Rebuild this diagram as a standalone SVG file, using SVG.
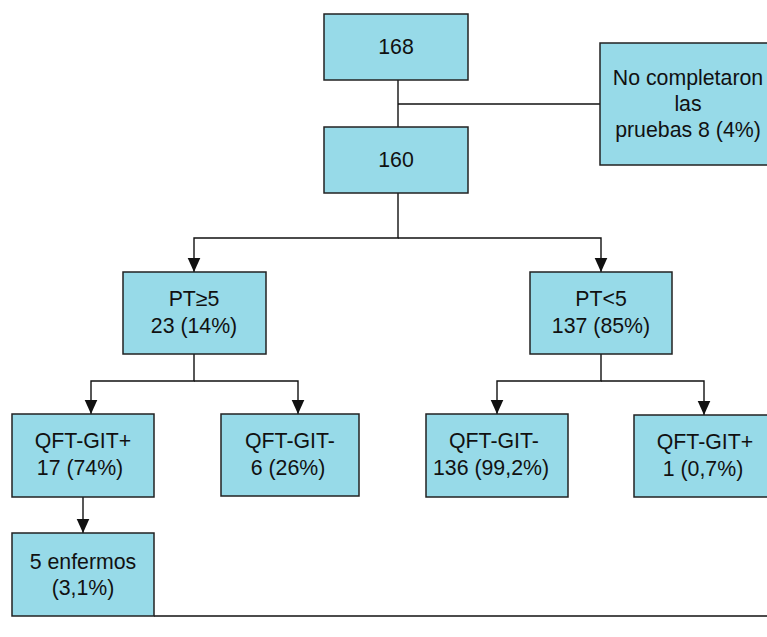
<svg xmlns="http://www.w3.org/2000/svg" width="767" height="637" viewBox="0 0 767 637">
<defs>
<marker id="arr" markerWidth="14" markerHeight="14" refX="10" refY="5" orient="auto" markerUnits="userSpaceOnUse" viewBox="0 0 10 10">
<path d="M0,0.5 L10,5 L0,9.5 Z" fill="#111"/>
</marker>
<style>
.box{fill:#97DAE8;stroke:#222;stroke-width:1.5}
.t{font-family:"Liberation Sans",Arial,sans-serif;font-size:21.3px;fill:#111;text-anchor:middle}
.c{fill:none;stroke:#111;stroke-width:1.4}
</style>
</defs>
<rect width="767" height="637" fill="#fff"/>
<g id="connectors">
<path class="c" d="M398,80 V127"/>
<path class="c" d="M398,104 H600"/>
<path class="c" d="M398,193 V238 H194 V272" marker-end="url(#arr)"/>
<path class="c" d="M398,238 H601 V272" marker-end="url(#arr)"/>
<path class="c" d="M194,354 V381 H91 V414" marker-end="url(#arr)"/>
<path class="c" d="M194,381 H298 V414" marker-end="url(#arr)"/>
<path class="c" d="M601,354 V381 H497 V414" marker-end="url(#arr)"/>
<path class="c" d="M601,381 H704 V415" marker-end="url(#arr)"/>
<path class="c" d="M83,497 V533" marker-end="url(#arr)"/>
<path class="c" d="M154,616 H767"/>
</g>
<g id="n168"><rect class="box" x="324" y="14" width="144" height="66"/><text class="t" x="396" y="54">168</text></g>
<g id="nNo"><rect class="box" x="600" y="43" width="168" height="122"/><text class="t" x="688" y="85">No completaron</text><text class="t" x="688" y="111">las</text><text class="t" x="688" y="137">pruebas 8 (4%)</text></g>
<g id="n160"><rect class="box" x="324" y="127" width="144" height="66"/><text class="t" x="396" y="167">160</text></g>
<g id="nPTge5"><rect class="box" x="123" y="272" width="143" height="82"/><text class="t" x="194" y="306">PT≥5</text><text class="t" x="194" y="333">23 (14%)</text></g>
<g id="nPTlt5"><rect class="box" x="530" y="272" width="142" height="82"/><text class="t" x="601" y="306">PT&lt;5</text><text class="t" x="601" y="333">137 (85%)</text></g>
<g id="nQpos17"><rect class="box" x="12" y="414" width="142" height="83"/><text class="t" x="83" y="448">QFT-GIT+</text><text class="t" x="80" y="475">17 (74%)</text></g>
<g id="nQneg6"><rect class="box" x="221" y="414" width="138" height="82"/><text class="t" x="290" y="448">QFT-GIT-</text><text class="t" x="288" y="475">6 (26%)</text></g>
<g id="nQneg136"><rect class="box" x="426" y="414" width="142" height="83"/><text class="t" x="494" y="448">QFT-GIT-</text><text class="t" x="491" y="475">136 (99,2%)</text></g>
<g id="nQpos1"><rect class="box" x="634" y="415" width="134" height="82"/><text class="t" x="705" y="449">QFT-GIT+</text><text class="t" x="703" y="476">1 (0,7%)</text></g>
<g id="nEnf"><rect class="box" x="12" y="533" width="142" height="83"/><text class="t" x="83" y="569">5 enfermos</text><text class="t" x="83" y="595">(3,1%)</text></g>
</svg>
